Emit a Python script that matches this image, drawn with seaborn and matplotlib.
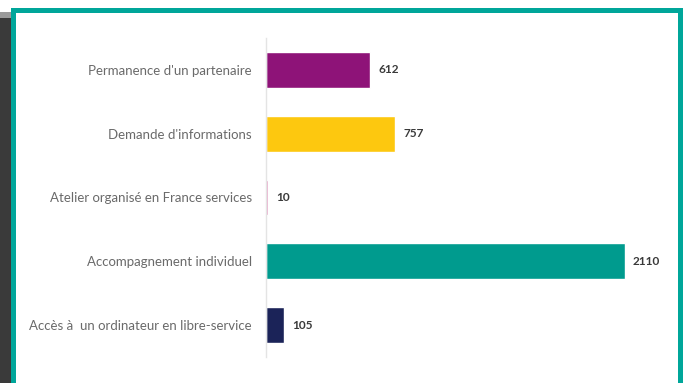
import matplotlib
matplotlib.use("Agg")
import matplotlib.pyplot as plt
import seaborn as sns
import pandas as pd
from matplotlib.patches import Rectangle

categories = [
    "Permanence d'un partenaire",
    "Demande d'informations",
    "Atelier organisé en France services",
    "Accompagnement individuel",
    "Accès à  un ordinateur en libre-service",
]
values = [612, 757, 10, 2110, 105]
bar_colors = ["#8E1378", "#FDC80F", "#E08AB8", "#009B8E", "#1B2358"]

df = pd.DataFrame({"cat": categories, "val": values})

sns.set_theme(style="white")
plt.rcParams["font.family"] = ["Lato", "DejaVu Sans"]

W, H = 687, 383
fig = plt.figure(figsize=(W / 100, H / 100), dpi=100)
fig.patch.set_facecolor("white")

# left dark shadow
fig.patches.append(Rectangle((0, 0), 11 / W, 1 - 18 / H, transform=fig.transFigure,
                             facecolor="#3a3a3a", edgecolor="none", zorder=0))
fig.patches.append(Rectangle((0, 1 - 18 / H), 11 / W, 6 / H, transform=fig.transFigure,
                             facecolor="#9a9a9a", edgecolor="none", zorder=0))
# teal frame
fig.patches.append(Rectangle((13 / W, -0.05), (680 - 13) / W, 1.05 - 10.5 / H,
                             transform=fig.transFigure, facecolor="white",
                             edgecolor="#00A69A", linewidth=3.6, zorder=1))

ax = fig.add_axes([266 / W, 1 - 357 / H, (674 - 266) / W, (357 - 38) / H])
ax.set_facecolor("none")
ax.set_zorder(2)

sns.barplot(data=df, y="cat", x="val", hue="cat", palette=bar_colors,
            orient="h", width=0.56, legend=False, ax=ax, saturation=1)

ax.set_xlim(0, 2400)
ax.set_xlabel("")
ax.set_ylabel("")
ax.set_xticks([])
for s in ["top", "right", "bottom"]:
    ax.spines[s].set_visible(False)
ax.spines["left"].set_color("#e4e4e4")
ax.spines["left"].set_linewidth(1)
ax.tick_params(axis="y", length=0, pad=10, labelsize=9.5, labelcolor="#6a6a6a")

for c in ax.containers:
    ax.bar_label(c, labels=[f"{int(v)}" for v in c.datavalues], padding=6,
                 fontsize=8.5, fontweight="bold", color="#3a3a3a")

fig.savefig("out.png", dpi=100)
